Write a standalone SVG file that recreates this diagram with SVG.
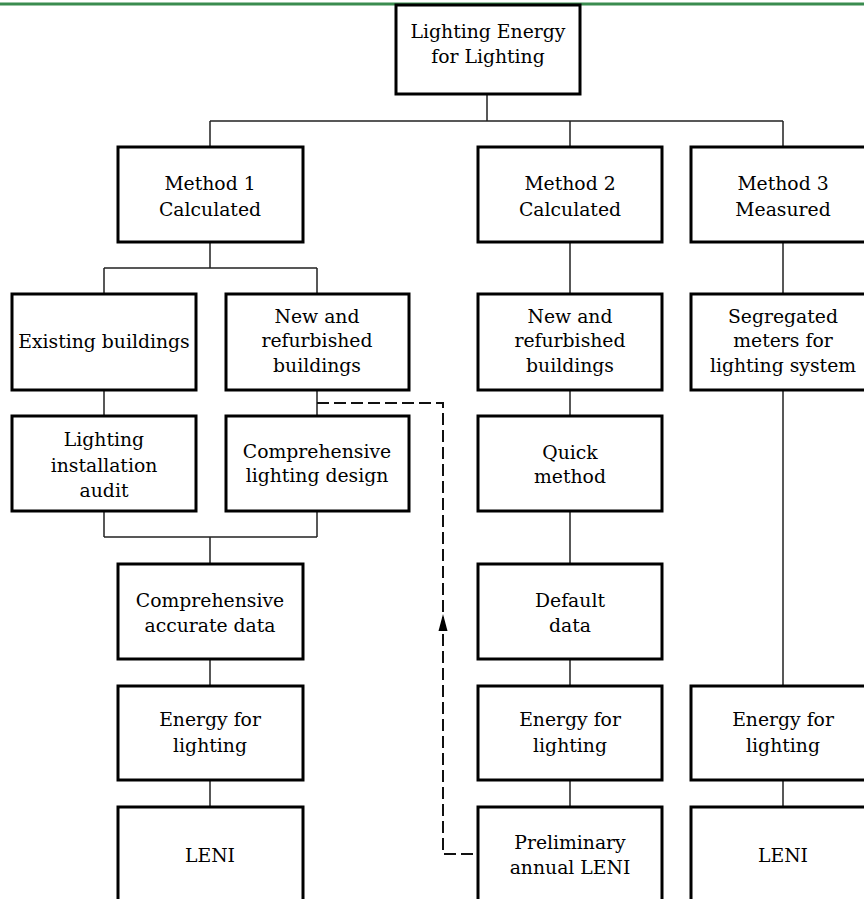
<svg xmlns="http://www.w3.org/2000/svg" width="864" height="899" viewBox="0 0 864 899">
<style>
.box{fill:#fff;stroke:#000;stroke-width:3}
.t{font-family:"DejaVu Serif","Liberation Serif",serif;font-size:18.8px;fill:#000;text-anchor:middle}
.c{fill:none;stroke:#222;stroke-width:1.5}
.d{fill:none;stroke:#111;stroke-width:2;stroke-dasharray:12 5}
</style>
<rect width="864" height="899" fill="#fff"/>
<line x1="0" y1="4" x2="864" y2="4" stroke="#3a8c4f" stroke-width="3"/>
<g id="connectors">
<path class="c" d="M487,94V121M210,121H783M210,121V147M570,121V147M783,121V147"/>
<path class="c" d="M210,242V268M104,268H317M104,268V294M317,268V294"/>
<path class="c" d="M104,390V416M317,390V416M104,511V537M317,511V537M104,537H317M210,537V564M210,659V686M210,780V807"/>
<path class="c" d="M570,242V294M570,390V416M570,511V564M570,659V686M570,780V807"/>
<path class="c" d="M783,242V294M783,390V686M783,780V807"/>
<path class="d" d="M317,403H443V854H478"/>
<polygon points="443,614 438.5,631 447.5,631" fill="#000"/>
</g>
<g id="root"><rect class="box" x="396" y="5" width="184" height="89"/><text class="t" x="488" y="38">Lighting Energy</text><text class="t" x="488" y="63">for Lighting</text></g>
<g id="m1"><rect class="box" x="118" y="147" width="185" height="95"/><text class="t" x="210" y="190">Method 1</text><text class="t" x="210" y="216">Calculated</text></g>
<g id="m2"><rect class="box" x="478" y="147" width="184" height="95"/><text class="t" x="570" y="190">Method 2</text><text class="t" x="570" y="216">Calculated</text></g>
<g id="m3"><rect class="box" x="691" y="147" width="184" height="95"/><text class="t" x="783" y="190">Method 3</text><text class="t" x="783" y="216">Measured</text></g>
<g id="existing"><rect class="box" x="12" y="294" width="184" height="96"/><text class="t" x="104" y="348">Existing buildings</text></g>
<g id="new1"><rect class="box" x="226" y="294" width="183" height="96"/><text class="t" x="317" y="323">New and</text><text class="t" x="317" y="347">refurbished</text><text class="t" x="317" y="372">buildings</text></g>
<g id="new2"><rect class="box" x="478" y="294" width="184" height="96"/><text class="t" x="570" y="323">New and</text><text class="t" x="570" y="347">refurbished</text><text class="t" x="570" y="372">buildings</text></g>
<g id="meters"><rect class="box" x="691" y="294" width="184" height="96"/><text class="t" x="783" y="323">Segregated</text><text class="t" x="783" y="347">meters for</text><text class="t" x="783" y="372">lighting system</text></g>
<g id="audit"><rect class="box" x="12" y="416" width="184" height="95"/><text class="t" x="104" y="446">Lighting</text><text class="t" x="104" y="472">installation</text><text class="t" x="104" y="497">audit</text></g>
<g id="design"><rect class="box" x="226" y="416" width="183" height="95"/><text class="t" x="317" y="458">Comprehensive</text><text class="t" x="317" y="482">lighting design</text></g>
<g id="quick"><rect class="box" x="478" y="416" width="184" height="95"/><text class="t" x="570" y="459">Quick</text><text class="t" x="570" y="483">method</text></g>
<g id="accurate"><rect class="box" x="118" y="564" width="185" height="95"/><text class="t" x="210" y="607">Comprehensive</text><text class="t" x="210" y="632">accurate data</text></g>
<g id="default"><rect class="box" x="478" y="564" width="184" height="95"/><text class="t" x="570" y="607">Default</text><text class="t" x="570" y="632">data</text></g>
<g id="energy1"><rect class="box" x="118" y="686" width="185" height="94"/><text class="t" x="210" y="726">Energy for</text><text class="t" x="210" y="752">lighting</text></g>
<g id="energy2"><rect class="box" x="478" y="686" width="184" height="94"/><text class="t" x="570" y="726">Energy for</text><text class="t" x="570" y="752">lighting</text></g>
<g id="energy3"><rect class="box" x="691" y="686" width="184" height="94"/><text class="t" x="783" y="726">Energy for</text><text class="t" x="783" y="752">lighting</text></g>
<g id="leni1"><rect class="box" x="118" y="807" width="185" height="110"/><text class="t" x="210" y="862">LENI</text></g>
<g id="leni2"><rect class="box" x="478" y="807" width="184" height="110"/><text class="t" x="570" y="849">Preliminary</text><text class="t" x="570" y="874">annual LENI</text></g>
<g id="leni3"><rect class="box" x="691" y="807" width="184" height="110"/><text class="t" x="783" y="862">LENI</text></g>
</svg>
